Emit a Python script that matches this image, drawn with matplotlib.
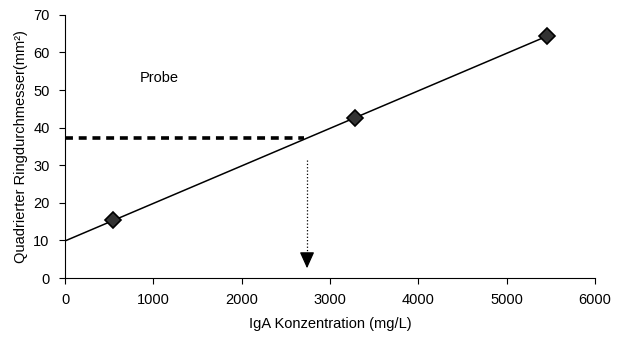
import matplotlib.pyplot as plt
import numpy as np

plt.rcParams['font.family'] = ['Liberation Sans', 'DejaVu Sans']

# calibration standards
conc = np.array([547, 3285, 5455])
ring = np.array([15.4, 42.5, 64.4])

# sample reading
probe_y = 37.3
probe_x = 2740

slope, icpt = np.polyfit(conc, ring, 1)
fit_x = np.array([0, conc[-1]])
fit_y = icpt + slope * fit_x

fig = plt.figure(figsize=(6.25, 3.45), dpi=100)
ax = fig.add_axes([0.104, 0.194, 0.848, 0.763])

ax.plot(fit_x, fit_y, color='black', linewidth=1.1, zorder=2)
ax.plot(conc, ring, linestyle='none', marker='D', markersize=8,
        markerfacecolor='#333333', markeredgecolor='black', markeredgewidth=1.2, zorder=3)

# dashed reading line and dotted arrow down to the x axis
ax.plot([0, 2700], [probe_y, probe_y], color='black', linewidth=2.6,
        linestyle=(0, (2.2, 1.6)), zorder=2)
ax.plot([probe_x, probe_x], [31.5, 6], color='black', linewidth=0.9, linestyle=':')
ax.annotate('', xy=(probe_x, 2.6), xytext=(probe_x, 6.5),
            arrowprops=dict(arrowstyle='-|>,head_length=1.0,head_width=0.45',
                            color='black', linewidth=0.9, shrinkA=0, shrinkB=0))

ax.text(850, 53.2, 'Probe', fontsize=10.5, va='center', ha='left')

ax.set_xlim(0, 6000)
ax.set_ylim(0, 70)
ax.set_xticks(range(0, 6001, 1000))
ax.set_yticks(range(0, 71, 10))
ax.spines['top'].set_visible(False)
ax.spines['right'].set_visible(False)
ax.tick_params(labelsize=10.5, length=4, width=0.8, direction='out', pad=7)
ax.set_xlabel('IgA Konzentration (mg/L)', fontsize=10.5, labelpad=7)
ax.set_ylabel('Quadrierter Ringdurchmesser(mm²)', fontsize=10.5, labelpad=4)

fig.savefig('out.png', dpi=100)
